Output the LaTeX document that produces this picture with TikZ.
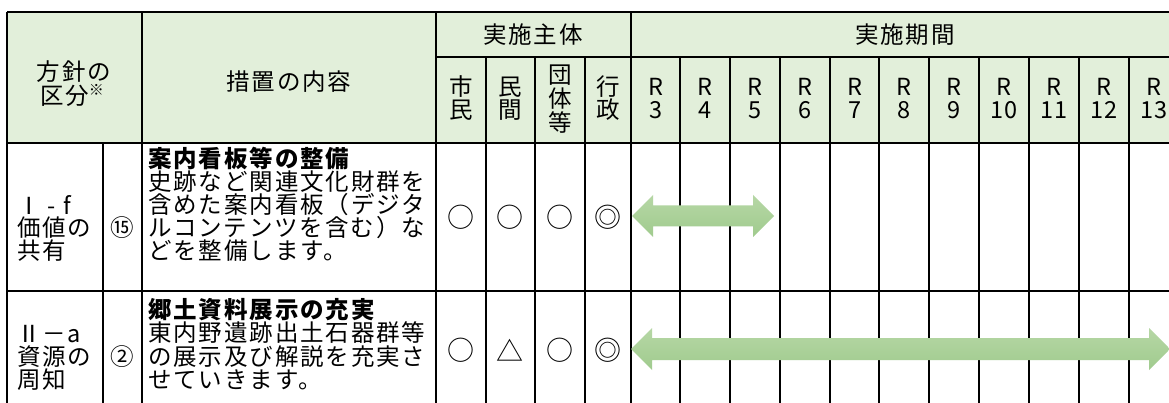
\documentclass[tikz,border=0pt]{standalone}
\usepackage{fontspec}
\setmainfont{Noto Sans CJK JP}[LetterSpace=8]
\usepackage{tikz}
\definecolor{headgreen}{RGB}{226,239,218}
\definecolor{arrowtop}{RGB}{182,215,165}
\definecolor{arrowbot}{RGB}{160,203,142}

\begin{document}
\begin{tikzpicture}[x=1pt,y=-1pt,
  every node/.style={inner sep=0pt,font=\fontsize{23.5}{24}\selectfont},
  grid/.style={line width=1.5pt},
  lefttext/.style={anchor=west},
  symb/.style={font=\fontsize{27}{27}\selectfont},
  band/.style={top color=arrowtop,bottom color=arrowbot,draw=none}]
\useasboundingbox (0,0) rectangle (1169,403);
\clip (0,0) rectangle (1169,403);
\fill[white] (0,0) rectangle (1169,403);
%見出し
\fill[headgreen] (7,12) rectangle (1179,143);
%罫線
\draw[grid] (7,12) -- (1179,12);
\draw[grid] (436,57) -- (1179,57);
\draw[grid] (7,143) -- (1179,143);
\draw[grid] (7,291) -- (1179,291);
\draw[grid] (7,12) -- (7,403);
\draw[grid] (103,143) -- (103,403);
\draw[grid] (142,12) -- (142,403);
\draw[grid] (436,12) -- (436,403);
\draw[grid] (486,57) -- (486,403);
\draw[grid] (535,57) -- (535,403);
\draw[grid] (585,57) -- (585,403);
\draw[grid] (631,12) -- (631,403);
\draw[grid] (680,57) -- (680,403);
\draw[grid] (730,57) -- (730,403);
\draw[grid] (780,57) -- (780,403);
\draw[grid] (830,57) -- (830,403);
\draw[grid] (879,57) -- (879,403);
\draw[grid] (929,57) -- (929,403);
\draw[grid] (979,57) -- (979,403);
\draw[grid] (1029,57) -- (1029,403);
\draw[grid] (1079,57) -- (1079,403);
\draw[grid] (1129,57) -- (1129,403);
\draw[grid] (1179,12) -- (1179,403);
%期間の矢印
\shade[band] (632,216) -- (653,195) -- (653,205.5) -- (753,205.5) -- (753,195) -- (774,216) -- (753,237) -- (753,226.5) -- (653,226.5) -- (653,237) -- cycle;
\shade[band] (631,349) -- (652,328) -- (652,338) -- (1149,338) -- (1149,328) -- (1170,349) -- (1149,370) -- (1149,360) -- (652,360) -- (652,370) -- cycle;
%Text
\node (hoshin1) at (74,72) {方針の};
\node (hoshin2) at (72,95) {区分\raisebox{0.7ex}{\fontsize{15}{15}\selectfont ※}};
\node (sochi) at (289,82) {措置の内容};
\node (shutai) at (533,35) {実施主体};
\node (kikan) at (905,35) {実施期間};
\node (shimin1) at (461,87) {市};
\node (shimin2) at (461,110) {民};
\node (minkan1) at (510,87) {民};
\node (minkan2) at (510,110) {間};
\node (dantai1) at (560,75) {団};
\node (dantai2) at (560,99) {体};
\node (dantai3) at (560,123) {等};
\node (gyosei1) at (608,87) {行};
\node (gyosei2) at (608,110) {政};
\node (r3a) at (656,87) {R};   \node (r3b) at (656,110) {3};
\node (r4a) at (705,87) {R};   \node (r4b) at (705,110) {4};
\node (r5a) at (755,87) {R};   \node (r5b) at (755,110) {5};
\node (r6a) at (805,87) {R};   \node (r6b) at (805,110) {6};
\node (r7a) at (855,87) {R};   \node (r7b) at (855,110) {7};
\node (r8a) at (904,87) {R};   \node (r8b) at (904,110) {8};
\node (r9a) at (954,87) {R};   \node (r9b) at (954,110) {9};
\node (r10a) at (1004,87) {R}; \node (r10b) at (1004,110) {10};
\node (r11a) at (1054,87) {R}; \node (r11b) at (1054,110) {11};
\node (r12a) at (1104,87) {R}; \node (r12b) at (1104,110) {12};
\node (r13a) at (1154,87) {R}; \node (r13b) at (1154,110) {13};
%1行目
\node[lefttext] (kbn1a) at (17,205) {Ⅰ - f};
\node[lefttext] (kbn1b) at (17,228) {価値の};
\node[lefttext] (kbn1c) at (17,251) {共有};
\node (no1) at (122,228) {⑮};
\node[lefttext] (naiyo1a) at (148,159) {\bfseries 案内看板等の整備};
\node[lefttext] (naiyo1b) at (148,182) {史跡など関連文化財群を};
\node[lefttext] (naiyo1c) at (148,205) {含めた案内看板（デジタ};
\node[lefttext] (naiyo1d) at (148,228) {ルコンテンツを含む）な};
\node[lefttext] (naiyo1e) at (148,251) {どを整備します。};
\node[symb] (m1a) at (461,217) {○};
\node[symb] (m1b) at (510,217) {○};
\node[symb] (m1c) at (560,217) {○};
\node[symb] (m1d) at (608,217) {◎};
%2行目
\node[lefttext] (kbn2a) at (17,334) {Ⅱ－a};
\node[lefttext] (kbn2b) at (17,357) {資源の};
\node[lefttext] (kbn2c) at (17,380) {周知};
\node (no2) at (122,357) {②};
\node[lefttext] (naiyo2a) at (148,310) {\bfseries 郷土資料展示の充実};
\node[lefttext] (naiyo2b) at (148,333) {東内野遺跡出土石器群等};
\node[lefttext] (naiyo2c) at (148,357) {の展示及び解説を充実さ};
\node[lefttext] (naiyo2d) at (148,380) {せていきます。};
\node[symb] (m2a) at (461,350) {○};
\node[symb] (m2b) at (510,350) {△};
\node[symb] (m2c) at (560,350) {○};
\node[symb] (m2d) at (608,350) {◎};
\end{tikzpicture}
\end{document}
